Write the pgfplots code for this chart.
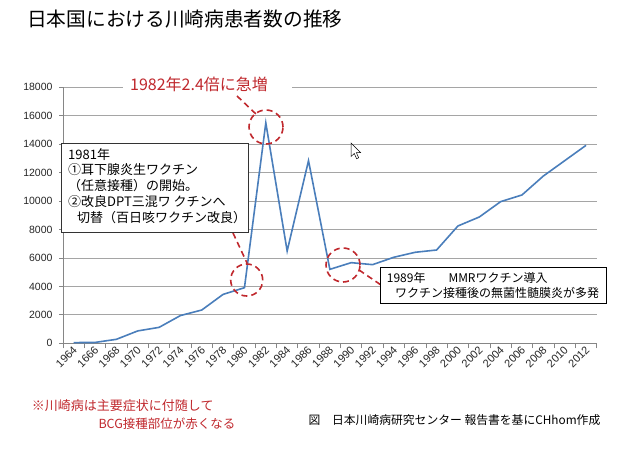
\documentclass[border=0pt]{standalone}
\usepackage{pgfplots}
\pgfplotsset{compat=1.18}
\usepackage{fontspec}
\setmainfont{Liberation Sans}
\newfontfamily\jp{Noto Sans CJK JP}
\definecolor{linec}{RGB}{74,126,187}
\definecolor{redc}{RGB}{192,40,45}
\definecolor{gridc}{RGB}{165,165,165}
\definecolor{axc}{RGB}{134,134,134}
\pgfplotstableread{
k v
0 50
1 60
2 280
3 870
4 1120
5 1950
6 2340
7 3440
8 3910
9 15500
10 6490
11 12840
12 5200
13 5670
14 5530
15 6050
16 6400
17 6560
18 8250
19 8880
20 9960
21 10430
22 11760
23 12840
24 13920
}\kawasaki
\begin{document}
\begin{tikzpicture}[x=1pt,y=1pt]
\useasboundingbox (0,0) rectangle (620,452);
\begin{axis}[
  at={(63pt,108.7pt)}, anchor=south west, scale only axis,
  width=533.7pt, height=256pt,
  xmin=-0.5, xmax=24.5, ymin=0, ymax=18000,
  axis lines*=left,
  axis line style={axc, line width=0.8pt},
  xtick={0,...,24},
  xticklabels={1964,1666,1968,1970,1972,1974,1976,1978,1980,1982,1984,1986,1988,1990,1992,1994,1996,1998,2000,2002,2004,2006,2008,2010,2012},
  minor xtick={-0.5,0.5,...,24.5},
  major x tick style={draw=none},
  minor x tick style={axc, line width=0.8pt},
  minor tick length=5pt,
  ytick={0,2000,...,18000},
  major tick length=4pt,
  y tick style={axc, line width=0.8pt},
  tick align=outside,
  ymajorgrids,
  major grid style={gridc, line width=0.9pt},
  scaled y ticks=false,
  /pgf/number format/1000 sep={},
  /pgf/number format/assume math mode=true,
  ticklabel style={font=\fontsize{10.5}{12}\selectfont, text=black!85},
  xticklabel style={font=\fontsize{11}{12}\selectfont, rotate=45, anchor=east, xshift=4pt, yshift=-1.5pt},
  yticklabel style={xshift=-3pt},
]
\addplot[linec, line width=1.6pt, no markers] table[x=k, y=v] {\kawasaki};
\end{axis}

% title
\node[anchor=west, inner sep=0, font=\jp\fontsize{19.7}{22}\selectfont] at (27,433) {日本国における川崎病患者数の推移};

% 1982 annotation
\fill[white] (123,359) rectangle (292,377);
\node[anchor=west, inner sep=0, text=redc, font=\jp\fontsize{16}{18}\selectfont] at (130,368) {1982年2.4倍に急増};
\tikzset{dsh/.style={redc, line width=1.6pt, dash pattern=on 6pt off 4pt}}
\draw[dsh] (237,356) -- (257,337);
\draw[dsh] (266,325) circle (17);

% 1981 box
\draw[dsh] (233,219) -- (247,189);
\draw[dsh] (246.7,172) circle (16);
\draw[black!80, line width=0.8pt, fill=white] (61.5,219.7) rectangle (248,308.7);
\begin{scope}[every node/.style={anchor=west, inner sep=0, font=\jp\fontsize{13}{15}\selectfont}]
\node at (68,297.7) {1981年};
\node at (68,282) {①耳下腺炎生ワクチン};
\node at (68,266) {（任意接種）の開始。};
\node at (68,250) {②改良DPT三混ワ クチンへ};
\node at (77,234) {切替（百日咳ワクチン改良）};
\end{scope}

% 1989 box
\draw[dsh] (343,187) circle (17);
\draw[dsh] (359,182) -- (381,167);
\draw[black, line width=0.8pt, fill=white] (380,148.7) rectangle (606,184.3);
\begin{scope}[every node/.style={anchor=west, inner sep=0, font=\jp\fontsize{12}{14}\selectfont}]
\node at (386.7,174) {1989年};
\node at (448.3,174) {MMRワクチン導入};
\node at (395,159) {ワクチン接種後の無菌性髄膜炎が多発};
\end{scope}

% mouse cursor
\draw[black, fill=white, line width=0.5pt, shift={(351,309)}, scale=0.85]
  (0,0) -- (0,-16) -- (3.8,-12.3) -- (6.6,-18.5) -- (9,-17.4) -- (6.3,-11.3) -- (11.3,-11.3) -- cycle;

% notes
\begin{scope}[every node/.style={anchor=west, inner sep=0}]
\node[text=redc, font=\jp\fontsize{13}{15}\selectfont] at (31.7,46) {※川崎病は主要症状に付随して};
\node[text=redc, font=\jp\fontsize{12.5}{15}\selectfont] at (98.3,28.7) {BCG接種部位が赤くなる};
\node[font=\jp\fontsize{11.8}{14}\selectfont] at (308.3,32) {図　日本川崎病研究センター 報告書を基にCHhom作成};
\end{scope}
\end{tikzpicture}
\end{document}
